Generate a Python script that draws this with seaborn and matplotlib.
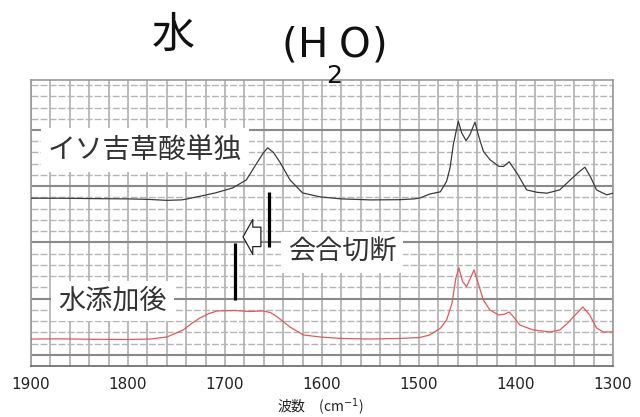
import matplotlib
matplotlib.use("Agg")
import matplotlib.pyplot as plt
import seaborn as sns
import pandas as pd
from matplotlib import font_manager

# ---- data (wavenumber cm^-1, signal in grid units) ----
wn_single = [1900, 1870, 1840, 1800, 1780, 1760, 1745, 1740, 1726, 1710, 1692, 1678,
             1667, 1661, 1656, 1650, 1643, 1633, 1620, 1602, 1580, 1550, 1520, 1505,
             1499, 1489, 1478, 1471.5, 1468, 1464.6, 1459.5, 1456, 1451.5, 1447.4,
             1442.3, 1439, 1433.7, 1427, 1418, 1413, 1407, 1399, 1389, 1378, 1368,
             1355, 1344, 1336, 1329, 1323, 1317, 1306.5, 1300]
sig_single = [14.93, 14.93, 14.90, 14.87, 14.83, 14.74, 14.78, 14.85, 15.10, 15.40, 15.85, 16.56,
              18.08, 18.90, 19.42, 19.00, 18.08, 16.56, 15.40, 15.05, 14.87, 14.78, 14.80, 14.87,
              14.95, 15.30, 15.50, 16.45, 17.63, 19.70, 21.79, 20.75, 20.06, 20.60,
              21.70, 20.60, 19.12, 18.37, 17.78, 17.75, 18.17, 17.16, 15.67, 15.45, 15.38,
              15.67, 16.56, 17.20, 17.69, 16.80, 15.67, 15.23, 15.38]

wn_water = [1900, 1870, 1840, 1800, 1777, 1760, 1743, 1735, 1726, 1717, 1708, 1690,
            1675, 1661, 1653, 1646, 1640, 1633, 1619, 1602, 1580, 1550, 1520, 1499,
            1489, 1478, 1471.5, 1466, 1462, 1459, 1455, 1451, 1447, 1443.3, 1439,
            1433.7, 1427, 1418, 1412, 1407, 1402, 1396, 1382.5, 1365, 1354.7, 1347,
            1341, 1331, 1324, 1317, 1310, 1300]
sig_water = [2.40, 2.42, 2.38, 2.36, 2.40, 2.58, 3.21, 3.75, 4.27, 4.65, 4.90, 4.94,
             4.85, 4.90, 4.75, 4.36, 3.95, 3.47, 2.76, 2.58, 2.45, 2.40, 2.45, 2.54,
             2.76, 3.36, 4.10, 5.58, 7.81, 8.75, 7.51, 7.06, 7.81, 8.55, 7.36,
             5.88, 4.99, 4.54, 4.60, 4.81, 4.30, 3.65, 3.21, 3.03, 3.21, 3.80,
             4.36, 5.25, 4.54, 3.38, 3.03, 3.03]

x_ticks = [1900, 1800, 1700, 1600, 1500, 1400, 1300]
x_tick_labels = ["1900", "1800", "1700", "1600", "1500", "1400", "1300"]

# marker bars (wavenumber, bottom, top)
bar_wn = [1654.6, 1689.7]
bar_bottom = [10.6, 5.88]
bar_top = [15.49, 10.95]

label_single = "イソ吉草酸単独"
label_water = "水添加後"
label_break = "会合切断"

# ---- style ----
sns.set_theme(style="white")
names = {f.name for f in font_manager.fontManager.ttflist}
HAS_NARROW = "Liberation Sans Narrow" in names
plt.rcParams["font.family"] = ["Noto Sans CJK JP", "DejaVu Sans"]
NUM_FAMILY = ["Liberation Sans Narrow", "DejaVu Sans"] if HAS_NARROW else ["DejaVu Sans"]

fig = plt.figure(figsize=(6.4, 4.17), dpi=100)
fig.patch.set_facecolor("white")
ax = fig.add_axes([31 / 640, 1 - 366 / 417, 582 / 640, (366 - 80) / 417])
ax.set_facecolor("white")
ax.set_xlim(1900, 1300)
ax.set_ylim(0, 25.45)

# grid
for v in range(1300, 1901, 20):
    ax.axvline(v, color="#a8a8a8", lw=1.1, zorder=0)
for h in range(1, 26):
    if (h - 1) % 5 == 0:
        ax.axhline(h, color="#8a8a8a", lw=1.5, zorder=0)
    else:
        ax.axhline(h, color="#b6b6b6", lw=1.0, ls=(0, (5, 1.5)), zorder=0)

df_single = pd.DataFrame({"wn": wn_single, "sig": sig_single})
df_water = pd.DataFrame({"wn": wn_water, "sig": sig_water})
sns.lineplot(data=df_single, x="wn", y="sig", color="#3c3c3c", lw=0.9, ax=ax, zorder=3)
sns.lineplot(data=df_water, x="wn", y="sig", color="#e05a5c", lw=0.9, ax=ax, zorder=3)

# labels with white boxes
box = dict(boxstyle="square,pad=0.25", fc="white", ec="none")
ax.text(1782.5, 19.23, label_single, fontsize=20, ha="center", va="center",
        color="#333333", bbox=box, zorder=5)
ax.text(1816, 5.79, label_water, fontsize=19.5, ha="center", va="center",
        color="#333333", bbox=box, zorder=5)
ax.text(1579, 10.1, label_break, fontsize=19.5, ha="center", va="center",
        color="#333333", bbox=box, zorder=5)

ax.vlines(bar_wn, bar_bottom, bar_top, color="black", lw=2.3, zorder=6)
ax.annotate("", xy=(1681.4, 11.49), xytext=(1663, 11.49),
            arrowprops=dict(arrowstyle="simple,head_length=0.35,head_width=1.25,tail_width=0.7",
                            mutation_scale=20, fc="white", ec="#222222", lw=0.9,
                            shrinkA=0, shrinkB=0), zorder=6)

# axes cosmetics
ax.set_xticks(x_ticks)
ax.set_xticklabels(x_tick_labels, family=NUM_FAMILY,
                   fontsize=13.5 if HAS_NARROW else 11, color="#222222")
ax.set_yticks([])
ax.tick_params(axis="x", length=0, pad=8)
ax.set_xlabel("")
ax.set_ylabel("")
for side, sp in ax.spines.items():
    sp.set_visible(True)
    sp.set_color("#666666" if side == "bottom" else "#999999")
    sp.set_linewidth(1.2)

# title
fig.text(173 / 640, 1 - 36 / 417, "水", fontsize=31, ha="center", va="center", color="#111111")
tsize = 37 if HAS_NARROW else 29
title_parts = [("(", 289), ("H", 313), ("O", 355), (")", 380)]
for ch, px in title_parts:
    fig.text(px / 640, 1 - 57 / 417, ch, fontsize=tsize, ha="center", va="baseline",
             family=NUM_FAMILY, color="#111111")
fig.text(334 / 640, 1 - 83 / 417, "2", fontsize=tsize * 0.62, ha="center", va="baseline",
         family=NUM_FAMILY, color="#111111")

# x label
fig.text(320 / 640, 1 - 407 / 417, "波数　(cm$^{-1}$)", fontsize=10, ha="center",
         va="center", color="#222222")

fig.savefig("out.png", dpi=100, facecolor="white")
